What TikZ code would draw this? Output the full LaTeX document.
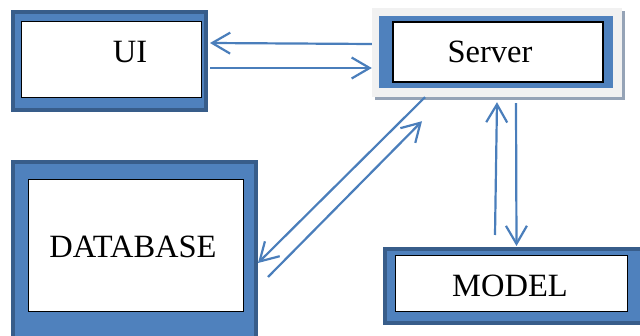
\documentclass[tikz,border=0pt]{standalone}
\usepackage{fontspec}
\setmainfont{Liberation Serif}
\usetikzlibrary{arrows.meta}
\definecolor{boxblue}{HTML}{4F81BD}
\definecolor{boxedge}{HTML}{385D8A}
\definecolor{linkblue}{HTML}{4A7EBB}
\definecolor{panelgray}{HTML}{F1F1F1}
\definecolor{shadegray}{HTML}{95A3B6}
\tikzset{
  framebox/.style={draw=boxedge, line width=4pt, fill=boxblue, inner sep=0pt},
  whitebox/.style={draw=black, line width=1pt, fill=white, inner sep=0pt},
  caption/.style={font=\fontsize{32.5}{37}\selectfont, anchor=base, inner sep=0pt},
  link/.style={draw=linkblue, line width=2.2pt, -{Straight Barb[length=18pt,width=21pt]}},
}
\begin{document}
\begin{tikzpicture}[x=1pt, y=-1pt]
\useasboundingbox (0,0) rectangle (640,336);
\clip (0,0) rectangle (640,336);

% UI block
\node[framebox, minimum width=193pt, minimum height=98pt] (ui) at (109.5,61) {};
\node[whitebox, minimum width=180pt, minimum height=76pt] (uiin) at (111,60) {};
\node[caption] (uitxt) at (130,63) {UI};

% Server block: raised light panel with a thin shadow
\node[fill=shadegray, minimum width=250pt, minimum height=89pt, inner sep=0pt] (srvshade) at (500,56) {};
\node[fill=panelgray, minimum width=250pt, minimum height=89pt, inner sep=0pt] (srv) at (497,52.5) {};
\node[fill=boxblue, minimum width=234pt, minimum height=72pt, inner sep=0pt] (srvblue) at (496,52) {};
\node[whitebox, line width=1.6pt, minimum width=210pt, minimum height=60pt] (srvin) at (498,52) {};
\node[caption] (srvtxt) at (490,63) {Server};

% Database block (runs past the lower edge)
\node[framebox, minimum width=243pt, minimum height=181pt] (db) at (134.5,252.5) {};
\node[whitebox, minimum width=215pt, minimum height=132pt] (dbin) at (135.5,246) {};
\node[caption] (dbtxt) at (133,258) {DATABASE};

% Model block (runs past the right edge)
\node[framebox, minimum width=263pt, minimum height=74pt] (model) at (516.5,286) {};
\node[whitebox, minimum width=232pt, minimum height=56pt] (modelin) at (511,284) {};
\node[caption] (modeltxt) at (510,297) {MODEL};

% Connectors
\draw[link] ([yshift=8.5pt]srv.west) -- ([xshift=2pt,yshift=18pt]ui.east);
\draw[link] ([xshift=2pt,yshift=-7pt]ui.east) -- ([yshift=-15.5pt]srv.west);
\draw[link] ([xshift=-72pt]srv.south) -- ([yshift=-10.5pt]db.east);
\draw[link] ([xshift=10pt,yshift=-24.5pt]db.east) -- ([xshift=-75pt,yshift=-24pt]srv.south);
\draw[link] ([xshift=-21.5pt,yshift=12pt]model.north) -- ([yshift=-5pt]srv.south);
\draw[link] ([xshift=19pt,yshift=-6pt]srv.south) -- ([yshift=1pt]model.north);
\end{tikzpicture}
\end{document}
